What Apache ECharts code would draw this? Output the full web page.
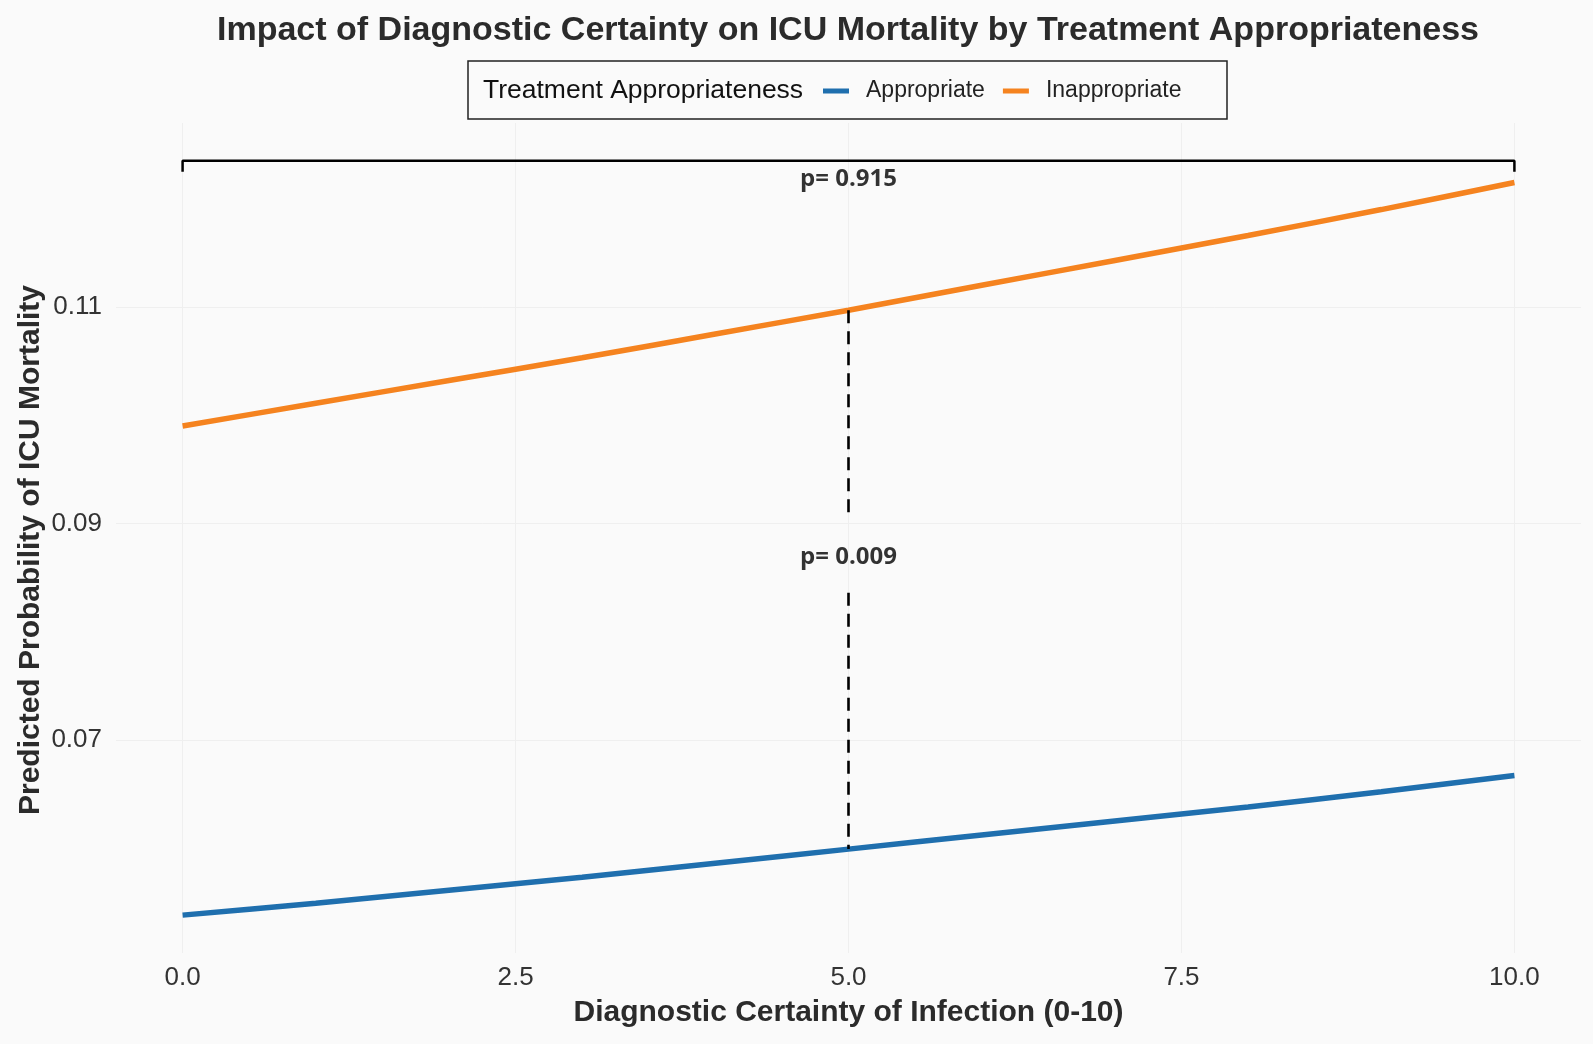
<!DOCTYPE html>
<html>
<head>
<meta charset="utf-8">
<script src="https://cdn.jsdelivr.net/npm/echarts@6/dist/echarts.min.js"></script>
<style>
html,body{margin:0;padding:0;background:#fafafa;}
#chart{width:1593px;height:1044px;}
</style>
</head>
<body>
<div id="chart"></div>
<script>
// ---- data ----
const xValues = [0, 1, 2, 3, 4, 5, 6, 7, 8, 9, 10];
const appropriate = [0.0538, 0.0549, 0.0561, 0.0573, 0.0586, 0.0599, 0.0612, 0.0625, 0.0638, 0.0652, 0.0667];
const inappropriate = [0.0990, 0.1011, 0.1032, 0.1053, 0.1075, 0.1097, 0.1120, 0.1143, 0.1166, 0.1190, 0.1215];
const xTicks = [0, 2.5, 5, 7.5, 10];
const yTicks = [0.07, 0.09, 0.11];
const seriesNames = ['Appropriate', 'Inappropriate'];
// annotations
const bracketX = [0, 0, 10, 10];
const bracketY = [0.1225, 0.1235, 0.1235, 0.1225];
const dashUpperY = [0.1097, 0.0903];
const dashLowerY = [0.0836, 0.0599];
const dashX = 5;
const pLabelText = ['p= 0.915', 'p= 0.009'];
const pLabelX = [5, 5];
const pLabelY = [0.1218, 0.0869];

const FONT = '"Liberation Sans", Arial, sans-serif';
const chart = echarts.init(document.getElementById('chart'), null, {renderer: 'canvas'});

const zip = (xs, ys) => xs.map((x, i) => [x, ys[i]]);

const option = {
  backgroundColor: '#fafafa',
  animation: false,
  textStyle: {fontFamily: FONT},
  graphic: [
    {type: 'text', x: 848, y: 31,
     style: {text: 'Impact of Diagnostic Certainty on ICU Mortality by Treatment Appropriateness',
             font: 'bold 34px ' + FONT, fill: '#2b2b2b', align: 'center', verticalAlign: 'middle'}, z: 10},
    {type: 'rect', shape: {x: 468, y: 61, width: 759, height: 58},
     style: {fill: 'none', stroke: '#222', lineWidth: 1.5}, z: 10},
    {type: 'text', x: 483, y: 91,
     style: {text: 'Treatment Appropriateness', font: '26.5px ' + FONT, fill: '#111', verticalAlign: 'middle'}, z: 10},
    {type: 'text', x: 31, y: 550, rotation: Math.PI / 2,
     style: {text: 'Predicted Probability of ICU Mortality', font: 'bold 30px ' + FONT, fill: '#2b2b2b',
             align: 'center', verticalAlign: 'middle'}, z: 10}
  ],
  legend: {
    data: seriesNames,
    left: 823,
    top: 78,
    padding: 0,
    icon: 'rect',
    itemWidth: 26,
    itemHeight: 5,
    itemGap: 18,
    textStyle: {fontSize: 23, color: '#222', fontFamily: FONT, padding: [0, 0, 0, 12], lineHeight: 26}
  },
  grid: {left: 116, right: 12, top: 123, bottom: 91, containLabel: false},
  xAxis: {
    type: 'value',
    min: -0.5,
    max: 10.5,
    name: 'Diagnostic Certainty of Infection (0-10)',
    nameLocation: 'middle',
    nameGap: 45,
    nameTextStyle: {fontSize: 30, fontWeight: 'bold', color: '#2b2b2b', fontFamily: FONT},
    axisLine: {show: false},
    axisTick: {show: false, customValues: xTicks},
    axisLabel: {customValues: xTicks, formatter: v => v.toFixed(1), fontSize: 26, color: '#333', margin: 12},
    splitLine: {show: true, lineStyle: {color: '#efefef', width: 1}}
  },
  yAxis: {
    type: 'value',
    min: 0.0503,
    max: 0.1270,
    axisLine: {show: false},
    axisTick: {show: false, customValues: yTicks},
    axisLabel: {customValues: yTicks, formatter: v => v.toFixed(2), fontSize: 26, color: '#333', margin: 14},
    splitLine: {show: true, lineStyle: {color: '#efefef', width: 1}}
  },
  series: [
    {
      name: seriesNames[0], type: 'line', data: zip(xValues, appropriate),
      symbol: 'none', smooth: 0.2, color: '#1f6fae',
      lineStyle: {width: 5.5, color: '#1f6fae'}, z: 3
    },
    {
      name: seriesNames[1], type: 'line', data: zip(xValues, inappropriate),
      symbol: 'none', smooth: 0.2, color: '#f5831f',
      lineStyle: {width: 5.5, color: '#f5831f'}, z: 3
    },
    {
      name: 'bracket', type: 'line', data: zip(bracketX, bracketY),
      symbol: 'none', lineStyle: {width: 2.5, color: '#000'}, z: 4, silent: true
    },
    {
      name: 'dashUpper', type: 'line', data: zip([dashX, dashX], dashUpperY),
      symbol: 'none', lineStyle: {width: 2.6, color: '#000', type: [13, 8]}, z: 4, silent: true
    },
    {
      name: 'dashLower', type: 'line', data: zip([dashX, dashX], dashLowerY),
      symbol: 'none', lineStyle: {width: 2.6, color: '#000', type: [13, 8]}, z: 4, silent: true
    },
    {
      name: 'pLabels', type: 'scatter', symbolSize: 1,
      itemStyle: {color: 'rgba(0,0,0,0)'},
      data: pLabelText.map((t, i) => ({name: t, value: [pLabelX[i], pLabelY[i]]})),
      label: {show: true, position: 'inside', formatter: p => p.name,
              fontSize: 24, fontWeight: 'bold', color: '#000', fontFamily: '"Open Sans", "Noto Sans", sans-serif'},
      z: 5, silent: true
    }
  ]
};
chart.setOption(option);
</script>
</body>
</html>
